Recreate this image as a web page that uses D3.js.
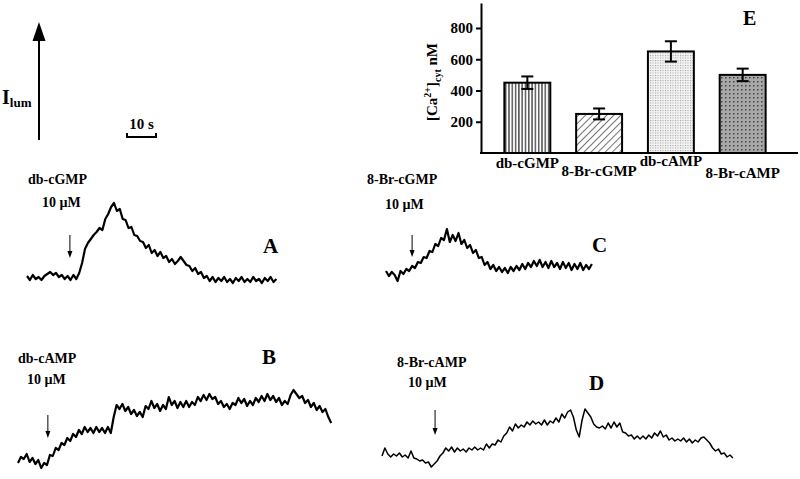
<!DOCTYPE html>
<html>
<head>
<meta charset="utf-8">
<script src="https://cdn.jsdelivr.net/npm/d3@7"></script>
<style>
  body { margin: 0; background: #fff; }
  text { font-family: "Liberation Serif", "Times New Roman", serif; font-weight: bold; fill: #000; }
</style>
</head>
<body>
<svg id="chart" width="800" height="479"></svg>
<script>
// --- bar chart E: [Ca2+]cyt (nM) ---
const barCategories = ["db-cGMP", "8-Br-cGMP", "db-cAMP", "8-Br-cAMP"];
const barMeans = [450, 250, 650, 500];
const barErrors = [40, 35, 65, 40];
const barTicks = [200, 400, 600, 800];
const barPatterns = ["vlines", "diag", "dotsLight", "dotsDark"];

// --- luminescence traces, one value per second (arbitrary units) ---
const traceA = [9, 5, 10, 6, 8, 5, 9, 11, 13, 10, 12, 8, 10, 6, 9, 5, 10, 6, 12, 22,
  36, 42, 46, 50, 53, 57, 55, 66, 71, 78, 82, 74, 76, 66, 65, 57, 58, 50, 49, 44,
  43, 37, 40, 32, 35, 29, 33, 27, 29, 23, 26, 21, 24, 28, 24, 20, 19, 14, 17, 11,
  13, 7, 9, 4, 8, 3, 7, 4, 8, 3, 6, 2, 7, 4, 8, 3, 6, 3, 8, 4,
  6, 2, 7, 4, 8, 3, 6];
const traceC = [14, 9, 13, 10, 4, 14, 11, 16, 14, 19, 17, 23, 22, 28, 27, 34, 33, 41, 39, 47,
  45, 56, 43, 50, 44, 52, 41, 45, 37, 40, 32, 35, 27, 28, 20, 23, 16, 20, 14, 18,
  13, 17, 12, 18, 14, 19, 15, 21, 16, 22, 18, 24, 19, 25, 18, 23, 17, 24, 18, 22,
  16, 23, 17, 22, 15, 21, 16, 22, 15, 20, 16, 21];
const traceB = [12, 18, 16, 21, 13, 17, 11, 15, 7, 12, 10, 20, 19, 27, 25, 32, 30, 37, 34, 41,
  38, 45, 41, 48, 43, 47, 42, 48, 43, 47, 42, 48, 42, 58, 70, 66, 71, 64, 68, 61,
  65, 59, 63, 58, 69, 66, 74, 67, 71, 64, 70, 66, 78, 70, 74, 67, 73, 68, 74, 68,
  73, 70, 78, 74, 80, 75, 81, 76, 78, 71, 74, 68, 71, 66, 72, 70, 77, 72, 76, 69,
  74, 70, 77, 73, 79, 74, 81, 75, 79, 73, 77, 70, 74, 71, 80, 85, 81, 77, 79, 72,
  75, 68, 72, 65, 69, 63, 66, 58, 52];
const traceD = [19, 27, 21, 18, 21, 19, 22, 18, 20, 17, 24, 17, 16, 14, 15, 12, 13, 8, 11, 14,
  19, 22, 27, 24, 28, 23, 27, 24, 26, 23, 27, 25, 28, 25, 27, 25, 31, 27, 31, 30,
  35, 33, 39, 42, 48, 44, 51, 47, 50, 48, 53, 50, 54, 51, 53, 50, 55, 50, 54, 52,
  57, 53, 61, 57, 63, 65, 58, 45, 38, 55, 66, 62, 58, 51, 48, 47, 49, 46, 52, 47,
  53, 48, 52, 43, 42, 39, 40, 36, 39, 36, 39, 36, 40, 37, 42, 39, 44, 38, 40, 35,
  37, 34, 36, 34, 37, 33, 36, 32, 35, 33, 37, 38, 35, 32, 27, 24, 26, 21, 22, 18,
  20, 17];

// panel layout (positions only)
const panels = [
  { key: "A", data: traceA, drug: "db-cGMP", dose: "10 \u00b5M", addAt: 14.8, x0: 27, y0: 285, width: 2.2,
    drugPos: [28, 184], dosePos: [42, 207], arrowY: [235, 258], letterPos: [263, 253] },
  { key: "C", data: traceC, drug: "8-Br-cGMP", dose: "10 \u00b5M", addAt: 9, x0: 386, y0: 285, width: 2.2,
    drugPos: [367, 184], dosePos: [385, 209], arrowY: [235, 257], letterPos: [592, 252] },
  { key: "B", data: traceB, drug: "db-cAMP", dose: "10 \u00b5M", addAt: 10.3, x0: 18, y0: 475, width: 2.2,
    drugPos: [18, 363], dosePos: [27, 384], arrowY: [415, 438], letterPos: [262, 364] },
  { key: "D", data: traceD, drug: "8-Br-cAMP", dose: "10 \u00b5M", addAt: 18.3, x0: 382, y0: 475, width: 1.5,
    drugPos: [397, 367], dosePos: [408, 387], arrowY: [410, 435], letterPos: [589, 390] }
];

const svg = d3.select("#chart");
const defs = svg.append("defs");

// fill patterns for the bars
const pv = defs.append("pattern").attr("id", "vlines").attr("patternUnits", "userSpaceOnUse")
  .attr("width", 3.3).attr("height", 10);
pv.append("rect").attr("width", 3.3).attr("height", 10).attr("fill", "#fff");
pv.append("line").attr("x1", 0.8).attr("x2", 0.8).attr("y1", 0).attr("y2", 10)
  .attr("stroke", "#000").attr("stroke-width", 1);

const pd = defs.append("pattern").attr("id", "diag").attr("patternUnits", "userSpaceOnUse")
  .attr("width", 5).attr("height", 5).attr("patternTransform", "rotate(45)");
pd.append("rect").attr("width", 5).attr("height", 5).attr("fill", "#fff");
pd.append("line").attr("x1", 0).attr("x2", 0).attr("y1", 0).attr("y2", 5)
  .attr("stroke", "#000").attr("stroke-width", 1.1);

const pl = defs.append("pattern").attr("id", "dotsLight").attr("patternUnits", "userSpaceOnUse")
  .attr("width", 2.5).attr("height", 2.5);
pl.append("rect").attr("width", 2.5).attr("height", 2.5).attr("fill", "#f3f3f3");
pl.append("rect").attr("width", 1).attr("height", 1).attr("fill", "#9a9a9a");

const pk = defs.append("pattern").attr("id", "dotsDark").attr("patternUnits", "userSpaceOnUse")
  .attr("width", 4).attr("height", 4);
pk.append("rect").attr("width", 4).attr("height", 4).attr("fill", "#a8a8a8");
pk.append("rect").attr("x", 1).attr("y", 1).attr("width", 1.5).attr("height", 1.5).attr("fill", "#444");

// --- bar chart E ---
const yBar = d3.scaleLinear().domain([0, 960]).range([153, 3]);
const xBar = d3.scaleBand().domain(barCategories).range([490, 780]).paddingInner(0.36).paddingOuter(0.2);

const gE = svg.append("g");
gE.append("g").attr("transform", "translate(481,0)")
  .call(d3.axisLeft(yBar).tickValues(barTicks).tickSize(5).tickSizeOuter(0).tickPadding(3))
  .call(g => g.selectAll("path, line").attr("stroke", "#000").attr("stroke-width", 2))
  .call(g => g.selectAll("text").attr("font-size", 15).style("font-family", "Liberation Serif, serif").style("font-weight", "bold"));
gE.append("line").attr("x1", 480).attr("x2", 798).attr("y1", yBar(0)).attr("y2", yBar(0))
  .attr("stroke", "#000").attr("stroke-width", 2);

gE.selectAll("rect.bar").data(barMeans).join("rect")
  .attr("class", "bar")
  .attr("x", (d, i) => xBar(barCategories[i]))
  .attr("width", xBar.bandwidth())
  .attr("y", d => yBar(d))
  .attr("height", d => yBar(0) - yBar(d))
  .attr("fill", (d, i) => `url(#${barPatterns[i]})`)
  .attr("stroke", "#000").attr("stroke-width", 2);

const capW = 6;
const err = gE.selectAll("g.err").data(barMeans).join("g").attr("class", "err")
  .attr("transform", (d, i) => `translate(${xBar(barCategories[i]) + xBar.bandwidth() / 2},0)`);
err.append("line").attr("y1", (d, i) => yBar(d + barErrors[i])).attr("y2", (d, i) => yBar(d - barErrors[i]))
  .attr("stroke", "#000").attr("stroke-width", 2);
err.append("line").attr("x1", -capW).attr("x2", capW)
  .attr("y1", (d, i) => yBar(d + barErrors[i])).attr("y2", (d, i) => yBar(d + barErrors[i]))
  .attr("stroke", "#000").attr("stroke-width", 2);
err.append("line").attr("x1", -capW).attr("x2", capW)
  .attr("y1", (d, i) => yBar(d - barErrors[i])).attr("y2", (d, i) => yBar(d - barErrors[i]))
  .attr("stroke", "#000").attr("stroke-width", 2);

// staggered category labels
const catDy = [15, 23, 13, 25];
gE.selectAll("text.cat").data(barCategories).join("text")
  .attr("class", "cat")
  .attr("x", d => xBar(d) + xBar.bandwidth() / 2)
  .attr("y", (d, i) => yBar(0) + catDy[i])
  .attr("text-anchor", "middle").attr("font-size", 15)
  .text(d => d);

// rotated y label: [Ca2+]cyt nM
const yl = gE.append("text").attr("transform", "translate(437,82) rotate(-90)")
  .attr("text-anchor", "middle").attr("font-size", 15);
yl.append("tspan").text("[Ca");
yl.append("tspan").attr("font-size", 10).attr("dy", -6).text("2+");
yl.append("tspan").attr("dy", 6).text("]");
yl.append("tspan").attr("font-size", 10).attr("dy", 4).text("cyt");
yl.append("tspan").attr("dy", -4).text(" nM");

gE.append("text").attr("x", 743).attr("y", 25).attr("font-size", 20).text("E");

// --- luminescence axis and time scale bar ---
const xTime = d3.scaleLinear().domain([0, 10]).range([0, 29]);

svg.append("line").attr("x1", 39).attr("x2", 39).attr("y1", 140).attr("y2", 36)
  .attr("stroke", "#000").attr("stroke-width", 2);
svg.append("path").attr("d", "M32.5,41 L45.5,41 L39,22 Z").attr("fill", "#000");
const il = svg.append("text").attr("x", 2).attr("y", 104).attr("font-size", 20);
il.append("tspan").text("I");
il.append("tspan").attr("font-size", 13).attr("dy", 3).text("lum");

const sb = svg.append("g").attr("transform", "translate(127,0)");
sb.append("path")
  .attr("d", `M0,133 L0,137 L${xTime(10)},137 L${xTime(10)},133`)
  .attr("fill", "none").attr("stroke", "#000").attr("stroke-width", 2);
sb.append("text").attr("x", xTime(10) / 2).attr("y", 129).attr("text-anchor", "middle")
  .attr("font-size", 15).text("10 s");

// --- traces ---
panels.forEach(p => {
  const y = d3.scaleLinear().domain([0, 100]).range([p.y0, p.y0 - 100]);
  const g = svg.append("g").attr("transform", `translate(${p.x0},0)`);
  const line = d3.line().x((d, i) => xTime(i)).y(d => y(d));
  g.append("path").datum(p.data).attr("d", line)
    .attr("fill", "none").attr("stroke", "#000")
    .attr("stroke-width", p.width).attr("stroke-linejoin", "round");

  // injection arrow
  const ax = xTime(p.addAt);
  g.append("line").attr("x1", ax).attr("x2", ax).attr("y1", p.arrowY[0]).attr("y2", p.arrowY[1] - 5)
    .attr("stroke", "#000").attr("stroke-width", 1);
  g.append("path").attr("d", `M${ax - 2.5},${p.arrowY[1] - 7} L${ax + 2.5},${p.arrowY[1] - 7} L${ax},${p.arrowY[1]} Z`)
    .attr("fill", "#000");

  svg.append("text").attr("x", p.drugPos[0]).attr("y", p.drugPos[1]).attr("font-size", 14).text(p.drug);
  svg.append("text").attr("x", p.dosePos[0]).attr("y", p.dosePos[1]).attr("font-size", 14).text(p.dose);
  svg.append("text").attr("x", p.letterPos[0]).attr("y", p.letterPos[1]).attr("font-size", 21).text(p.key);
});
</script>
</body>
</html>
